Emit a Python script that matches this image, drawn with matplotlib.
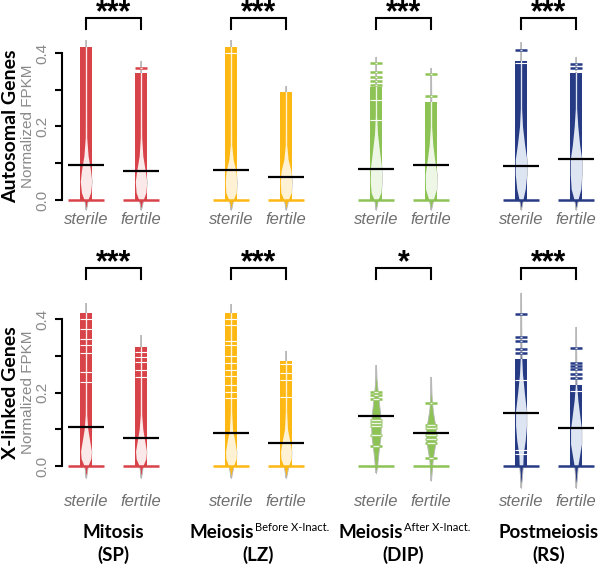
import numpy as np
import matplotlib
matplotlib.use("Agg")
import matplotlib.pyplot as plt
from matplotlib.patches import Rectangle

# --- data (normalized FPKM) ---
stages = ["Mitosis", "Meiosis", "Meiosis", "Postmeiosis"]
stage_sup = ["", "Before X-Inact.", "After X-Inact.", ""]
stage_abbr = ["(SP)", "(LZ)", "(DIP)", "(RS)"]
groups = ["sterile", "fertile"]
rows = ["Autosomal Genes", "X-linked Genes"]
stars = [["***", "***", "***", "***"], ["***", "***", "*", "***"]]

colors = ["#d8434a", "#fdb813", "#8dc255", "#273b85"]
lights = ["#fbe8e8", "#fff2d4", "#eef6e6", "#dde4f2"]

# medians, order: (stage1 sterile, stage1 fertile, stage2 sterile, ...)
med_auto = [0.095, 0.079, 0.082, 0.063, 0.083, 0.096, 0.093, 0.112]
med_x = [0.107, 0.077, 0.089, 0.062, 0.137, 0.089, 0.143, 0.104]

# extent of the bean outline (min, max)
lo_auto = [-0.027] * 8
hi_auto = [0.435, 0.378, 0.435, 0.31, 0.39, 0.36, 0.429, 0.39]
lo_x = [-0.033, -0.033, -0.033, -0.033, -0.02, -0.04, -0.06, -0.06]
hi_x = [0.444, 0.356, 0.44, 0.314, 0.275, 0.243, 0.472, 0.379]

# top of the dense block of beanlines (0 = no dense block)
block_auto = [0.416, 0.346, 0.416, 0.293, 0.307, 0.268, 0.377, 0.345]
block_x = [0.415, 0.325, 0.415, 0.287, 0.0, 0.0, 0.29, 0.22]

# single beanlines above / apart from the block
lines_auto = [[], [0.358], [], [], [0.372, 0.349, 0.334, 0.324, 0.313],
              [0.343, 0.283], [0.408], [0.369, 0.360]]
lines_x = [[], [], [], [], [0.202, 0.193, 0.182, 0.125, 0.118, 0.110, 0.084, 0.054],
           [0.171, 0.112, 0.104, 0.084, 0.073, 0.063, 0.023],
           [0.414, 0.352, 0.341, 0.318, 0.308],
           [0.320, 0.281, 0.272, 0.263, 0.250, 0.239]]

# empty values inside the block
gaps_auto = [[], [], [0.401], [], [0.272, 0.218], [], [0.372], [0.352]]
gaps_x = [[0.399, 0.372, 0.345, 0.329, 0.307, 0.257, 0.229],
          [0.311, 0.297, 0.284, 0.261, 0.243],
          [0.399, 0.384, 0.341, 0.329, 0.299, 0.279, 0.261, 0.245, 0.220, 0.202, 0.184],
          [0.277, 0.252, 0.234, 0.189],
          [], [], [0.234, 0.044, 0.033], [0.205]]

# density outline: heights and relative half-widths
prof_y_auto = [[-0.027, 0, 0.02, 0.05, 0.08, 0.12, 0.17, 0.25, 0.435],
               [-0.027, 0, 0.02, 0.05, 0.08, 0.12, 0.17, 0.25, 0.378],
               [-0.027, 0, 0.02, 0.05, 0.08, 0.11, 0.15, 0.25, 0.435],
               [-0.027, 0, 0.02, 0.05, 0.08, 0.11, 0.15, 0.22, 0.31],
               [-0.027, 0, 0.02, 0.05, 0.09, 0.13, 0.18, 0.23, 0.39],
               [-0.027, 0, 0.03, 0.07, 0.11, 0.15, 0.20, 0.36],
               [-0.027, 0, 0.03, 0.07, 0.11, 0.15, 0.20, 0.25, 0.429],
               [-0.027, 0, 0.03, 0.07, 0.11, 0.15, 0.20, 0.25, 0.39]]
prof_w_auto = [[0, 0.3, 0.75, 0.95, 0.75, 0.35, 0.12, 0.06, 0],
               [0, 0.35, 0.8, 0.95, 0.7, 0.3, 0.12, 0.06, 0],
               [0, 0.35, 0.85, 0.95, 0.8, 0.35, 0.12, 0.06, 0],
               [0, 0.35, 0.85, 0.95, 0.8, 0.35, 0.12, 0.05, 0],
               [0, 0.3, 0.8, 0.95, 0.9, 0.6, 0.25, 0.08, 0],
               [0, 0.35, 0.9, 0.95, 0.6, 0.3, 0.1, 0],
               [0, 0.3, 0.7, 0.95, 0.95, 0.6, 0.25, 0.08, 0],
               [0, 0.3, 0.8, 0.95, 0.95, 0.6, 0.3, 0.1, 0]]
prof_y_x = [[-0.033, 0, 0.02, 0.04, 0.07, 0.10, 0.14, 0.20, 0.444],
            [-0.033, 0, 0.02, 0.04, 0.07, 0.10, 0.14, 0.20, 0.356],
            [-0.033, 0, 0.02, 0.04, 0.07, 0.10, 0.15, 0.20, 0.44],
            [-0.033, 0, 0.02, 0.04, 0.07, 0.10, 0.15, 0.20, 0.314],
            [-0.02, 0, 0.02, 0.05, 0.08, 0.11, 0.14, 0.17, 0.20, 0.235, 0.275],
            [-0.04, 0, 0.02, 0.04, 0.07, 0.10, 0.12, 0.15, 0.19, 0.243],
            [-0.06, 0, 0.03, 0.07, 0.11, 0.15, 0.20, 0.25, 0.30, 0.472],
            [-0.06, 0, 0.03, 0.06, 0.10, 0.14, 0.18, 0.22, 0.379]]
prof_w_x = [[0, 0.3, 0.8, 0.9, 0.6, 0.3, 0.12, 0.06, 0],
            [0, 0.3, 0.8, 0.9, 0.6, 0.3, 0.12, 0.06, 0],
            [0, 0.4, 0.85, 0.9, 0.6, 0.25, 0.1, 0.05, 0],
            [0, 0.4, 0.85, 0.9, 0.6, 0.25, 0.1, 0.05, 0],
            [0, 0.2, 0.3, 0.5, 0.75, 0.8, 0.7, 0.5, 0.3, 0.1, 0],
            [0, 0.2, 0.3, 0.5, 0.8, 0.8, 0.6, 0.3, 0.1, 0],
            [0, 0.3, 0.35, 0.7, 0.9, 0.9, 0.55, 0.25, 0.1, 0],
            [0, 0.3, 0.6, 0.9, 0.9, 0.6, 0.3, 0.1, 0]]

GRAY = "#b8b8b8"
HW = 0.11    # beanline half width (data units)
BW = 0.335   # median / zero line half width

W, H = 600, 565
fig = plt.figure(figsize=(6, 5.65), dpi=100)


def draw_bean(ax, x, color, light, med, lo, hi, block, lines, gaps, py, pw):
    py = np.array(py)
    pw = np.array(pw) * HW
    ax.plot([x, x], [lo, hi], color=GRAY, lw=1.2, zorder=1, solid_capstyle="butt")
    ax.fill_betweenx(py, x - pw, x + pw, facecolor=color, edgecolor=GRAY, lw=0.6, zorder=2)
    if block > 0:
        ax.bar(x, block, width=2 * HW, bottom=0, color=color, lw=0, zorder=3)
        inner = np.maximum(pw, 0.012)
        poly = ax.fill_betweenx(py, x - inner, x + inner, color=light, lw=0, zorder=4)
        clip = Rectangle((x - HW, 0), 2 * HW, block, transform=ax.transData)
        poly.set_clip_path(clip)
        if gaps:
            ax.hlines(gaps, x - HW, x + HW, color="white", lw=0.8, zorder=5)
    for v in lines:
        ax.hlines(v, x - HW, x + HW, color=color, lw=1.8, zorder=5)
        w = max(np.interp(v, py, pw), 0.012)
        ax.hlines(v, x - w, x + w, color=light, lw=1.0, zorder=6)
    ax.hlines(0, x - BW, x + BW, color=color, lw=1.8, zorder=6)
    ax.hlines(med, x - BW, x + BW, color="black", lw=1.6, zorder=7)


col_s = [86, 231, 376, 521]   # pixel x of sterile bean per stage
zero_px = [200, 466]          # pixel y of value 0 per row
lab_px = [20, 35.5]           # group label offset below 0 (px)
brk_px = [18, 268]            # bracket line (px from top)
PXU = 55.0                    # px per x unit
PYU = 367.5                   # px per y unit
ylo, yhi = -0.08, 0.56

row_data = [
    (med_auto, lo_auto, hi_auto, block_auto, lines_auto, gaps_auto, prof_y_auto, prof_w_auto),
    (med_x, lo_x, hi_x, block_x, lines_x, gaps_x, prof_y_x, prof_w_x),
]

for r in range(2):
    med, lo, hi, blk, lns, gps, pys, pws = row_data[r]
    z = zero_px[r]
    top_px = z - yhi * PYU
    bot_px = z - ylo * PYU
    for c in range(4):
        left_px = col_s[c] - 40
        ax = fig.add_axes([left_px / W, 1 - bot_px / H, 135 / W, (bot_px - top_px) / H])
        ax.set_xlim(-40 / PXU, 95 / PXU)
        ax.set_ylim(ylo, yhi)
        ax.patch.set_alpha(0)
        for k in range(2):
            i = c * 2 + k
            draw_bean(ax, k, colors[c], lights[c], med[i], lo[i], hi[i], blk[i],
                      lns[i], gps[i], pys[i], pws[i])
            ax.text(k, -lab_px[r] / PYU, groups[k], ha="center", va="center",
                    fontsize=12, style="italic", color="#707070", family="Liberation Sans")
        # significance bracket with stars
        by = (z - brk_px[r]) / PYU
        ax.plot([0, 0, 1, 1], [by - 0.03, by, by, by - 0.03], color="black", lw=1.5,
                clip_on=False, solid_joinstyle="miter")
        ax.text(0.5, by - 3.5 / PYU, stars[r][c], ha="center", va="baseline", fontsize=22,
                fontweight="bold", family="Liberation Sans", clip_on=False)
        for s in ["top", "right", "bottom"]:
            ax.spines[s].set_visible(False)
        ax.set_xticks([])
        if c == 0:
            ax.spines["left"].set_position(("data", (62 - col_s[0]) / PXU))
            ax.spines["left"].set_bounds(0, 0.4)
            ax.spines["left"].set_linewidth(1.5)
            ax.set_yticks([0, 0.1, 0.2, 0.3, 0.4])
            ax.set_yticklabels(["0.0", "", "0.2", "", "0.4"], rotation=90, va="center",
                               color="#8a8a8a", fontsize=11, family="Liberation Sans")
            ax.tick_params(axis="y", length=5, width=1.5, pad=4)
        else:
            ax.spines["left"].set_visible(False)
            ax.set_yticks([])
    # row labels
    mid = (z - 0.2 * PYU)
    fig.text(28 / W, 1 - mid / H, "Normalized FPKM", rotation=90, ha="center", va="center",
             fontsize=11, color="#8a8a8a", family="Liberation Sans")
    fig.text(11 / W, 1 - mid / H, rows[r], rotation=90, ha="center", va="center",
             fontsize=14, fontweight="bold", family="Lato")

# stage titles with superscripts
renderer = fig.canvas.get_renderer()
for c in range(4):
    cx = col_s[c] + PXU / 2
    t1 = fig.text(0, 1 - 532 / H, stages[c], ha="left", va="center", fontsize=13.5,
                  fontweight="bold", family="Lato")
    w1 = t1.get_window_extent(renderer).width
    w2 = 0
    if stage_sup[c]:
        t2 = fig.text(0, 1 - 527.5 / H, stage_sup[c], ha="left", va="center", fontsize=8,
                      family="Lato")
        w2 = t2.get_window_extent(renderer).width
        t2.set_x((cx - (w1 + w2) / 2 + w1 + 1) / W)
    t1.set_x((cx - (w1 + w2) / 2) / W)
    fig.text(cx / W, 1 - 555 / H, stage_abbr[c], ha="center", va="center", fontsize=13.5,
             fontweight="bold", family="Lato")

fig.savefig("out.png", dpi=100)
